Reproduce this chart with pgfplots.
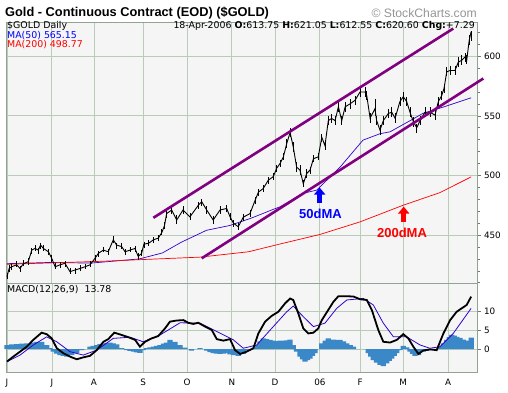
\documentclass[border=0pt]{standalone}
\usepackage{pgfplots}
\usepackage{pgfplotstable}
\pgfplotsset{compat=1.18}
\usepackage{fontspec}
\setmainfont{Liberation Sans}
\newfontfamily\dejavu{DejaVu Sans}
\usetikzlibrary{arrows.meta}
\definecolor{gridg}{RGB}{184,204,184}
\definecolor{bgc}{RGB}{245,245,245}
\definecolor{trend}{RGB}{128,0,128}
\definecolor{maf}{RGB}{51,0,204}
\definecolor{histc}{RGB}{59,136,200}
\definecolor{scgray}{RGB}{150,150,150}

\pgfplotstableread{
x c ep em
0 415 3 2
1 422 3 3
2.2 423.4 2 3
4.6 425 3 2
6.2 422 2 3
7.8 426 3 2
10.1 427.6 3 3
11.8 437.4 2 3
13.3 438.8 3 2
14.9 437.4 2 3
16 441.6 2 3
17.3 438.8 3 2
19.7 436 2 3
21.3 430.5 3 3
22.9 423.4 3 2
25.2 425 2 3
27.6 426.3 2 3
30 419.3 3 2
32.4 420.7 2 3
34.8 422 3 2
37.1 423.4 2 2
39.5 425 3 2
41.9 430.5 3 2
43.5 434.7 2 3
45.9 437.4 3 2
48.2 436 2 3
50.6 446 3 3
52.2 441.6 2 3
54.6 440.3 3 2
56.2 436 2 3
58.6 437.4 3 2
60.9 438.8 2 3
62.5 432 3 3
64.1 434.7 3 2
65.2 442.5 2 3
67.3 443 3 2
69.7 446 2 3
72 447.4 3 2
73.7 452 3 2
75 458 3 3
76 468 3 4
78.4 471 3 3
80.8 462.6 4 3
83.8 471 3 3
87.1 465.3 3 3
91.1 475 3 3
92.7 478 2 4
95.1 471 3 3
98.2 462.6 3 3
101.4 471 3 3
104.6 472.3 3 3
106.2 465.3 3 3
107.8 460 3 3
110.1 457 3 3
112.5 465 3 3
115.7 468 3 3
118.1 479 3 3
119.7 486 3 3
122 489 3 3
124.4 496 3 3
126.8 499 3 3
128.4 506 3 3
130 510 3 3
131.6 515.6 3 3
133.2 526.8 4 4
134.8 536 4 4
136.3 524 4 4
137.9 507 4 4
139.5 504.5 4 4
141.1 493 3 3
142.7 501.7 4 4
144.3 504.5 3 3
145.9 514 3 3
148.2 515.6 3 3
149.9 532 3 4
151.4 525 4 4
153 546 4 4
154.6 547.8 4 4
156.2 546 4 4
157.8 557.5 4 4
159.4 546 4 4
161 557.5 4 4
163.3 560 4 4
165.7 563 4 4
168.1 570 4 4
170.5 570 4 4
171.3 567 4 4
172.9 548 4 4
175.2 556 8 6
176 546 4 4
177.6 538 4 4
179.2 546 4 4
181.6 552 4 4
183.2 553 4 4
184.8 548 4 4
187.1 562 4 4
188.7 566 4 4
190.3 562 4 4
191.9 553 4 4
193.5 545 4 4
195.1 540 3 4
196.7 546 4 4
199 553 4 4
201.4 553 4 4
203.8 550.6 4 4
205.4 562 4 4
207 567 4 4
208.1 573 4 4
209.4 587 4 4
211 588 4 4
213.3 588 4 4
214.9 595 4 4
216.5 596.6 4 4
218.1 599.4 3 4
218.9 596.6 4 3
220.1 613.4 4 4
221 620.6 0.5 8
}\price

\pgfplotstableread{
x m
0 426
20 427
40 426.5
50 428
63 430
74 435
83 444
95 454
106 458
116 464
126.7 471.5
130 473.7
141 485
147.5 487.7
158.6 507
169.5 529.6
177.6 535
182.4 536.6
192 546
198 552
208 557.5
221 565.15
}\mafifty

\pgfplotstableread{
x m
0 425.5
45 428
92 431.5
115 436
130 442.5
149 450.5
168 461
188.6 475
206 485.5
221 498.77
}\matwo

\pgfplotstableread{
x m
0 -3.3
3 -2
6.2 -0.7
9.4 0.6
12.5 2.4
16.5 4.3
18.9 3.9
21.3 2.8
23.7 0.2
26.8 -1.1
30 -2
33.2 -2.7
36.3 -2.2
39.5 -1.8
42.7 -0.3
45.9 1.9
48.2 2.6
51.1 4.3
54.6 3.7
57.8 3.1
61 2.4
63.3 0.6
65.7 1.9
68.9 2.8
72 3.4
75.2 5.4
77.6 7.2
80.8 7.5
84 7.6
86.3 6.9
88.7 6.6
91.1 6.9
94.3 5.9
97.5 5.0
99.9 2.6
103 2.2
106.2 2.6
108.6 -0.3
111 -1.3
114.1 -0.7
117.3 0.2
119.7 4.1
122.9 7.2
126 8.7
129.2 9.8
132.4 12.0
134.8 13.3
136.3 12.9
138.7 9.4
141.1 5.4
143.5 4.1
145.9 4.3
148.2 5.4
149.9 7.6
153 10.3
155.4 12.4
157.8 13.9
161.8 13.9
165 13.8
168.1 13.1
171.3 12.9
173.7 10.3
176.8 5.0
179.2 1.9
182.4 1.7
185.6 2.4
188.7 3.9
191.1 2.8
193.5 0.6
195.9 -1.3
198.2 -0.4
201.4 -0.1
204.6 -0.3
207.8 4.1
211 7.6
214.1 9.8
217.3 11.0
218.9 11.6
221 13.78
}\macd

\pgfplotstableread{
x s
0 -3.3
6.2 -1.6
12.5 1.05
18.9 3.2
23.7 1.9
30 -0.7
36.3 -1.6
42.7 -0.3
50.6 2.8
58.6 3.1
64.9 1.9
72.9 3.7
82.4 6.9
91.9 6.8
99.9 4.6
107.8 2.4
112.5 0.2
118.9 1.05
126.8 5.9
133.2 9.8
136.3 11.3
141.1 8.5
145.9 5.9
151.4 6.8
157 10.7
161.8 12.9
169.7 13.3
174.4 11.6
179.2 6.8
184 3.2
190.3 3.2
196.7 1.05
201.4 0.2
206.2 0.6
212.5 4.1
221 10.7
}\signal

\pgfplotstableread{
x h
0 1.05
2.3 1.2
4.6 1.3
7 1.4
9.4 1.5
11.8 1.7
14.1 1.9
16.5 1.9
18.9 1.05
20.5 0.2
22 -0.7
23.6 -1.2
25.2 -1.6
26.8 -1.8
28.4 -2.0
30.8 -1.6
33.2 -1.1
35.6 -0.3
37.1 0
39.5 0.6
41.1 0.8
42.7 1.05
44.3 1.3
45.9 1.5
47.5 1.6
49 1.7
50.6 1.5
52.2 1.2
54.6 0.2
57 -0.3
58.6 -0.5
60.2 -0.7
61.8 -0.9
63.3 -1.0
64.9 -0.3
66.5 0.2
68.1 0.4
69.7 0.6
71.3 0.8
72.9 1.05
74.5 1.4
76 1.7
77.6 2.4
80 1.9
82.4 1.05
84.8 0.35
86.3 0
87.9 -0.4
89.5 0
91.9 0.2
93.5 0
95.1 -0.4
96.7 -0.8
98.2 -1.1
99.8 -1.2
101.4 -1.3
103 -1.2
104.6 -1.1
106.2 -1.4
107.8 -1.6
110.1 -1.8
112.5 -1.3
114.9 -0.4
117.3 0
118.9 1.05
120.5 2.0
122 2.8
123.6 2.6
125.2 2.4
126.8 2.2
128.4 2.1
130 2.2
131.6 2.2
133.2 2.3
134.8 2.5
136.3 1.05
137.9 -0.7
139.5 -2.0
140.7 -2.7
141.9 -3.3
143.1 -2.9
144.3 -2.5
145.5 -1.8
146.7 -1.1
148.2 0
149.9 1.5
151.5 2.2
153 2.8
155.4 2.5
157 2.4
158.6 2.4
160.2 2.0
161.8 1.5
163.4 1.0
165 0.6
167.3 0
170.5 0
172 -1.1
173.2 -2.0
174.4 -2.9
176 -3.6
177.6 -4.2
179.2 -4.5
180.8 -3.8
182 -3.1
183.2 -2.5
184.4 -1.8
185.6 -1.1
187.1 -0.3
188.7 0.8
190.3 0.4
191.9 -0.7
193.1 -1.3
194.3 -1.8
195.9 -1.6
198.2 -0.7
199.8 -0.5
201.4 -0.3
204.6 0
206.2 0.6
207.8 1.5
209.4 2.4
210.6 3.1
211.8 3.7
213 3.5
214.1 3.2
215.7 2.9
217.3 2.5
218.5 2.2
219.7 1.9
221 3.0
}\hist

\pgfplotsset{
  chartbase/.style={
    scale only axis, width=471pt,
    xmin=-0.48, xmax=223.8,
    axis background/.style={fill=bgc},
    axis line style={gridg!80!black},
    grid=major, grid style={gridg, line width=0.9pt},
    xtick={0,21.4,41.4,64.8,85.7,107.1,127.6,149,168.1,188.6,210},
    ytick pos=right, yticklabel pos=right,
    tick align=outside,
    major tick length=3.5pt, minor tick length=2.5pt,
    tick style={gridg!60!black, line width=0.6pt},
    /pgf/number format/assume math mode=true,
    tick label style={font=\dejavu\fontsize{8.8}{10}\selectfont},
    clip=false,
  }
}

\begin{document}
\begin{tikzpicture}
\path[use as bounding box, fill=white] (0,0) rectangle (508pt,393pt);

\begin{axis}[chartbase,
  at={(6pt,110pt)}, anchor=south west, height=261pt,
  ymin=409.8, ymax=628.7,
  xticklabels={}, xtick style={draw=none},
  ytick={450,500,550,600},
  minor ytick={410,420,...,620},
]
\addplot[maf, line width=0.7pt] table[x=x,y=m] {\mafifty};
\addplot[red, line width=0.7pt] table[x=x,y=m] {\matwo};
\addplot[black, line width=0.9pt,
  error bars/.cd, y dir=both, y explicit,
  error bar style={black, line width=0.8pt}, error mark=none]
  table[x=x, y=c, y error plus=ep, y error minus=em] {\price};
\addplot[trend, line width=2.6pt] coordinates {(69.7,464.5) (212.5,623.2)};
\addplot[trend, line width=2.6pt] coordinates {(92.7,430.5) (226.8,581.3)};
\draw[blue, line width=5pt, -{Triangle[width=11pt,length=7pt]}] (axis cs:148.9,476.8) -- (axis cs:148.9,489.8);
\draw[red, line width=5pt, -{Triangle[width=11pt,length=7pt]}] (axis cs:188.9,460.9) -- (axis cs:188.9,473.9);
\node[text=blue, font=\bfseries\fontsize{13}{15}\selectfont, inner sep=0] at (axis cs:149.3,467.6) {50dMA};
\node[text=red, font=\bfseries\fontsize{13}{15}\selectfont, inner sep=0] at (axis cs:188.1,452.1) {200dMA};
\end{axis}

\begin{axis}[chartbase,
  at={(6pt,21pt)}, anchor=south west, height=89pt,
  ymin=-6.05, ymax=17.37,
  xticklabels={J,J,A,S,O,N,D,06,F,M,A},
  xtick style={draw=none},
  ytick={0,5,10},
]
\addplot[ybar, bar width=2.5, fill=histc, draw=none] table[x=x,y=h] {\hist};
\addplot[maf, line width=0.8pt] table[x=x,y=s] {\signal};
\addplot[black, line width=1.8pt] table[x=x,y=m] {\macd};
\end{axis}

\node[anchor=west, inner sep=0, font=\bfseries\fontsize{12.8}{15}\selectfont] at (5pt,380pt) {Gold - Continuous Contract (EOD) (\$GOLD)};
\node[anchor=east, inner sep=0, text=scgray, font=\fontsize{12.2}{14}\selectfont] at (477pt,379.5pt) {\textcopyright\ StockCharts.com};
\node[anchor=west, inner sep=0, font=\dejavu\fontsize{9.4}{11}\selectfont] at (7pt,367pt) {\$GOLD Daily};
\node[anchor=west, inner sep=0, text=blue, font=\dejavu\fontsize{9.4}{11}\selectfont] at (7pt,357.5pt) {MA(50) 565.15};
\node[anchor=west, inner sep=0, text=red, font=\dejavu\fontsize{9.4}{11}\selectfont] at (7pt,348pt) {MA(200) 498.77};
\node[anchor=east, inner sep=0, font=\dejavu\fontsize{9.4}{11}\selectfont] at (475pt,367pt) {18-Apr-2006 \textbf{O:}613.75 \textbf{H:}621.05 \textbf{L:}612.55 \textbf{C:}620.60 \textbf{Chg:}+7.29};
\node[anchor=west, inner sep=0, font=\dejavu\fontsize{9.4}{11}\selectfont] at (7pt,103pt) {MACD(12,26,9)\ \ 13.78};
\end{tikzpicture}
\end{document}
